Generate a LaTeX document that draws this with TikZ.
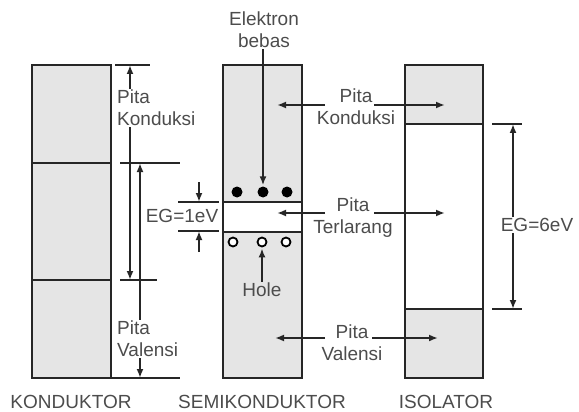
\documentclass[tikz,border=0pt]{standalone}
\usepackage{fontspec}
\setmainfont{Liberation Sans}
\usetikzlibrary{arrows.meta,positioning}

\begin{document}
\begin{tikzpicture}[
        x=1pt, y=-1pt,
        >={Latex[length=9pt,width=7pt]},
        band/.style={draw=black!85, line width=2pt},
        fillband/.style={band, fill=black!10},
        lbl/.style={font=\fontsize{19}{22}\selectfont, text=black!70, inner sep=1pt, align=center},
        arr/.style={->, line width=2pt, black!85},
        tick/.style={line width=1.8pt, black!85},
        edot/.style={circle, fill=black, inner sep=0pt, minimum size=11pt},
        hdot/.style={circle, draw=black, line width=1.8pt, fill=white, inner sep=0pt, minimum size=9pt}
    ]
        \useasboundingbox (0,0) rectangle (579,412);

        % Konduktor
        \draw[fillband] (32,65) rectangle (111,378);
        \draw[band] (32,163) -- (111,163);
        \draw[band] (32,280) -- (111,280);
        \draw[tick] (115,65) -- (150,65);
        \draw[tick] (120,163) -- (180,163);
        \draw[tick] (120,280) -- (157,280);
        \draw[tick] (111,378) -- (180,378);
        \node[lbl, align=left, anchor=west] (kkon) at (116,108) {Pita\\Konduksi};
        \node[lbl, align=left, anchor=west] (kval) at (116,339) {Pita\\Valensi};
        \coordinate (kkTop) at (130,65);
        \coordinate (kkBot) at (130,280);
        \coordinate (kvTop) at (140,163);
        \coordinate (kvBot) at (140,378);
        \draw[arr] (kkon.north -| kkTop) -- (kkTop);
        \draw[arr] (kkon.south -| kkBot) -- (kkBot);
        \draw[arr] (kval.north -| kvTop) -- (kvTop);
        \draw[arr] (kval.south -| kvBot) -- (kvBot);
        \node[lbl] (konduktor) at (71,402) {KONDUKTOR};

        % Semikonduktor
        \draw[fillband] (223,65) rectangle (302,378);
        \draw[band, fill=white] (223,202) rectangle (302,232);
        \node[edot] (e1) at (237,192) {};
        \node[edot] (e2) at (263,192) {};
        \node[edot] (e3) at (287,192) {};
        \node[hdot] (h1) at (233,242) {};
        \node[hdot] (h2) at (262,242) {};
        \node[hdot] (h3) at (286,242) {};
        \node[lbl] (elektron) at (264,30) {Elektron\\bebas};
        \node[lbl] (hole) at (262,290) {Hole};
        \draw[arr, shorten >=1pt] (elektron.south -| e2) -- (e2.north);
        \draw[arr, shorten >=1pt] (hole.north) -- (h2.south);
        \draw[tick] (178,202) -- (219,202);
        \draw[tick] (178,231) -- (219,231);
        \coordinate (sgTop) at (199,202);
        \coordinate (sgBot) at (199,231);
        \draw[arr] (199,182) -- (sgTop);
        \draw[arr] (199,252) -- (sgBot);
        \node[lbl, inner sep=0pt] (eg1) at (182,216) {EG=1eV};
        \node[lbl] (semikonduktor) at (262,402) {SEMIKONDUKTOR};

        % Isolator
        \draw[band] (405,65) rectangle (483,378);
        \draw[fillband] (405,65) rectangle (483,124);
        \draw[fillband] (405,309) rectangle (483,378);
        \draw[tick] (492,124) -- (522,124);
        \draw[tick] (492,309) -- (522,309);
        \node[lbl] (eg6) at (537,225) {EG=6eV};
        \coordinate (igTop) at (513,124);
        \coordinate (igBot) at (513,309);
        \draw[arr] (eg6.north -| igTop) -- (igTop);
        \draw[arr] (eg6.south -| igBot) -- (igBot);
        \node[lbl] (isolator) at (446,402) {ISOLATOR};

        % Label pita di tengah
        \node[lbl] (mkon) at (356,107) {Pita\\Konduksi};
        \node[lbl] (mter) at (353,218) {Pita\\Terlarang};
        \node[lbl] (mval) at (352,343) {Pita\\Valensi};
        \draw[arr] (325,105) -- (277,105);
        \draw[arr] (374,105) -- (445,105);
        \draw[arr] (325,213) -- (277,213);
        \draw[arr] (374,213) -- (445,213);
        \draw[arr] (325,338) -- (275,338);
        \draw[arr] (372,338) -- (438,338);
    \end{tikzpicture}
\end{document}
